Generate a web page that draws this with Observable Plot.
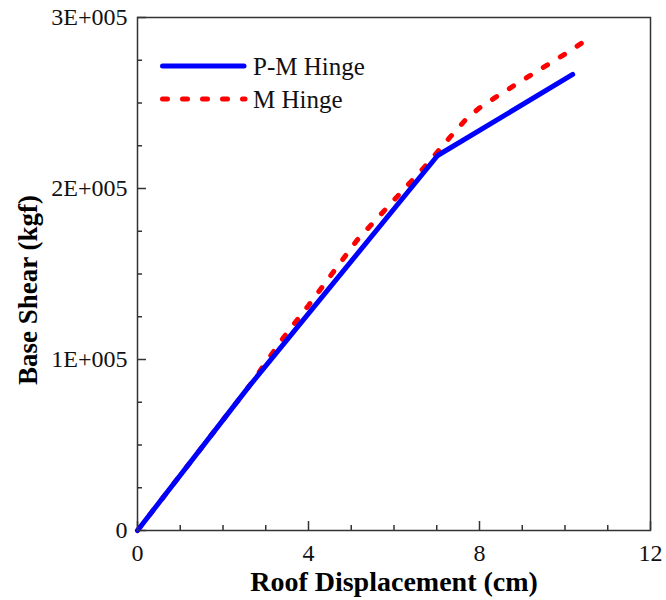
<!DOCTYPE html>
<html>
<head>
<meta charset="utf-8">
<script src="https://cdn.jsdelivr.net/npm/d3@7"></script>
<script src="https://cdn.jsdelivr.net/npm/@observablehq/plot@0.6"></script>
<style>
  html, body { margin: 0; padding: 0; background: #fff; }
  #chart { width: 666px; height: 600px; }
</style>
</head>
<body>
<div id="chart"></div>
<script>
// ---- Data ----
const pmX = [0, 2.6, 7.02, 10.18];
const pmY = [0, 84000, 219300, 266700];

const mX = [0, 2.6, 3.42, 4.0, 4.55, 5.13, 5.76, 6.72, 7.08, 7.31, 7.66, 7.99, 8.38, 8.77, 9.18, 9.57, 9.96, 10.45];
const mY = [0, 84000, 113000, 131600, 150100, 169600, 186700, 212800, 223200, 230000, 239800, 247000, 253400, 259600, 266000, 272000, 278000, 286000];

const seriesNames = ["P-M Hinge", "M Hinge"];
const seriesColors = ["#0000ff", "#ff0000"];

const xMajorTicks = [0, 4, 8, 12];
const xTickLabels = ["0", "4", "8", "12"];
const xMinorTicks = [1, 2, 3, 5, 6, 7, 9, 10, 11];
const yMajorTicks = [0, 100000, 200000, 300000];
const yTickLabels = ["0", "1E+005", "2E+005", "3E+005"];
const yMinorTicks = [25000, 50000, 75000, 125000, 150000, 175000, 225000, 250000, 275000];

const xTitle = "Roof Displacement (cm)";
const yTitle = "Base Shear (kgf)";

// ---- Build ----
const pm = pmX.map((x, i) => ({x, y: pmY[i]}));
const mh = mX.map((x, i) => ({x, y: mY[i]}));

const W = 666, H = 600;
const mL = 137, mR = 16, mT = 17, mB = 70;
const plotW = W - mL - mR, plotH = H - mT - mB;
const axisColor = "#333";
const serifFont = "Liberation Serif";

const chart = Plot.plot({
  width: W,
  height: H,
  marginLeft: mL,
  marginRight: mR,
  marginTop: mT,
  marginBottom: mB,
  style: { background: "#fff", color: "#111", overflow: "visible" },
  x: { domain: [0, 12], axis: null },
  y: { domain: [0, 300000], axis: null },
  marks: [
    Plot.axisX({ticks: xMajorTicks, tickFormat: (d) => xTickLabels[xMajorTicks.indexOf(d)], tickSize: 0, tickPadding: 13, fontSize: 24, label: null}),
    Plot.axisY({ticks: yMajorTicks, tickFormat: (d) => yTickLabels[yMajorTicks.indexOf(d)], tickSize: 0, tickPadding: 10, fontSize: 24, label: null}),
    Plot.tickX(xMinorTicks, {x: (d) => d, insetTop: plotH - 5, stroke: axisColor, strokeWidth: 1.5}),
    Plot.tickX(xMajorTicks, {x: (d) => d, insetTop: plotH - 9, stroke: axisColor, strokeWidth: 1.5}),
    Plot.tickY(yMinorTicks, {y: (d) => d, insetRight: plotW - 5, stroke: axisColor, strokeWidth: 1.5}),
    Plot.tickY(yMajorTicks, {y: (d) => d, insetRight: plotW - 9, stroke: axisColor, strokeWidth: 1.5}),
    Plot.line(mh, {x: "x", y: "y", stroke: seriesColors[1], strokeWidth: 5, strokeDasharray: "5,15", strokeLinecap: "round"}),
    Plot.line(pm, {x: "x", y: "y", stroke: seriesColors[0], strokeWidth: 5, strokeLinecap: "round", strokeLinejoin: "round"}),
    Plot.frame({stroke: axisColor, strokeWidth: 1.5}),
    Plot.text([xTitle], {text: (d) => d, frameAnchor: "bottom", dy: 52, fontSize: 28, fontWeight: "bold", fill: "#000", textAnchor: "middle", lineAnchor: "middle"}),
    Plot.text([yTitle], {text: (d) => d, frameAnchor: "left", dx: -109, dy: 16, rotate: -90, fontSize: 27, fontWeight: "bold", fill: "#000", textAnchor: "middle", lineAnchor: "middle"})
  ]
});

// Legend inside the plot (top-left)
const svg = d3.select(chart);
const leg = svg.append("g").attr("font-size", 25).attr("fill", "#111").attr("text-anchor", "start");
const legendRows = [
  {y: 66, dash: null},
  {y: 99, dash: "5,15"}
];
legendRows.forEach((r, i) => {
  const ln = leg.append("line")
    .attr("x1", 162.5).attr("x2", i === 0 ? 244 : 245)
    .attr("y1", r.y).attr("y2", r.y)
    .attr("stroke", seriesColors[i]).attr("stroke-width", 5)
    .attr("stroke-linecap", "round");
  if (r.dash) ln.attr("stroke-dasharray", r.dash);
  leg.append("text").attr("x", 253).attr("y", r.y + 8.5).attr("text-anchor", "start").text(seriesNames[i]);
});
svg.attr("font-family", serifFont);
svg.selectAll("g").attr("font-family", serifFont);
svg.selectAll("text").attr("font-family", serifFont);

document.getElementById("chart").appendChild(chart);
</script>
</body>
</html>
